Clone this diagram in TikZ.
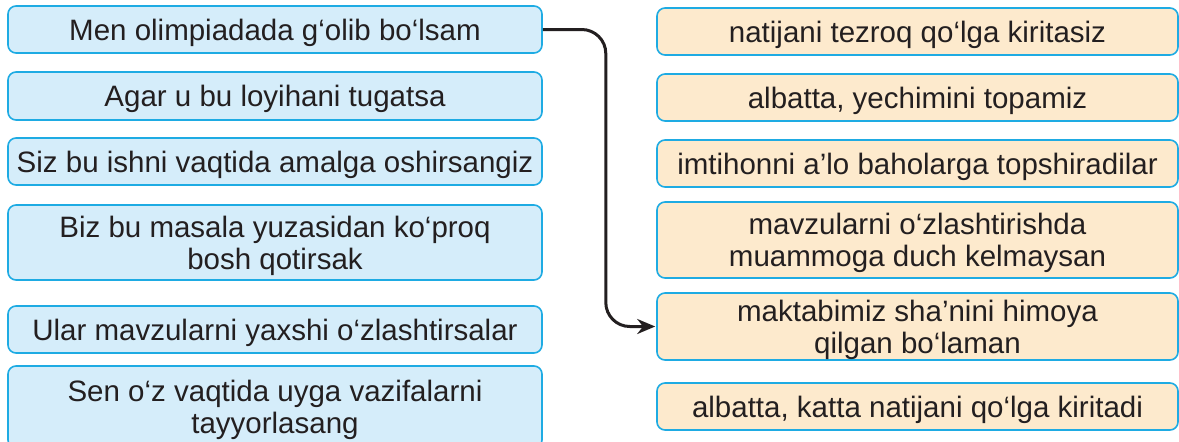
\documentclass[tikz,border=0pt]{standalone}
\usepackage{fontspec}
\setmainfont{Liberation Sans}
\usepackage{tikz}
\usetikzlibrary{
  arrows.meta,%
  positioning,%
  calc
}
\definecolor{boxline}{HTML}{1EABE3}
\definecolor{leftfill}{HTML}{D5EDFA}
\definecolor{rightfill}{HTML}{FDEACD}
\definecolor{inktext}{HTML}{231F20}
\tikzset{>={Stealth[length=18pt,width=15pt]}}
\tikzset{font=\fontsize{29.5}{32}\selectfont}
\tikzset{sentbox/.style={draw=boxline, line width=1.6pt, rounded corners=8pt,
    text=inktext, align=center, inner sep=0pt, text depth=0pt}}
\tikzset{ifbox/.style={sentbox, fill=leftfill, minimum width=534pt}}
\tikzset{thenbox/.style={sentbox, fill=rightfill, minimum width=521pt}}

\begin{document}
\begin{tikzpicture}[x=1pt, y=-1pt]
          \useasboundingbox (0,0) rectangle (1179,442);
          % left column: conditions
          \node[ifbox, minimum height=47pt] (l1) at (275,29.5) {Men olimpiadada g‘olib bo‘lsam};
          \node[ifbox, minimum height=48pt] (l2) at (275,96) {Agar u bu loyihani tugatsa};
          \node[ifbox, minimum height=47pt] (l3) at (275,161.5) {Siz bu ishni vaqtida amalga oshirsangiz};
          \node[ifbox, minimum height=75pt] (l4) at (275,242.5) {Biz bu masala yuzasidan ko‘proq\\bosh qotirsak};
          \node[ifbox, minimum height=47pt] (l5) at (275,329.5) {Ular mavzularni yaxshi o‘zlashtirsalar};
          \node[ifbox, minimum height=82pt] (l6) at (275,407) {Sen o‘z vaqtida uyga vazifalarni\\tayyorlasang};
          % right column: results
          \node[thenbox, minimum height=47pt] (r1) at (917.5,31.5) {natijani tezroq qo‘lga kiritasiz};
          \node[thenbox, minimum height=47pt] (r2) at (917.5,97.5) {albatta, yechimini topamiz};
          \node[thenbox, minimum height=47pt] (r3) at (917.5,163.5) {imtihonni a’lo baholarga topshiradilar};
          \node[thenbox, minimum height=76pt] (r4) at (917.5,240) {mavzularni o‘zlashtirishda\\muammoga duch kelmaysan};
          \node[thenbox, minimum height=67pt] (r5) at (917.5,326.5) {maktabimiz sha’nini himoya\\qilgan bo‘laman};
          \node[thenbox, minimum height=47pt] (r6) at (917.5,406.5) {albatta, katta natijani qo‘lga kiritadi};
          % sample answer
          \coordinate (bend) at ($(l1.east)+(63,0)$);
          \draw[->, line width=3pt, inktext, rounded corners=24pt, shorten >=1pt] (l1.east) -- (bend) |- (r5.west);
\end{tikzpicture}
\end{document}
